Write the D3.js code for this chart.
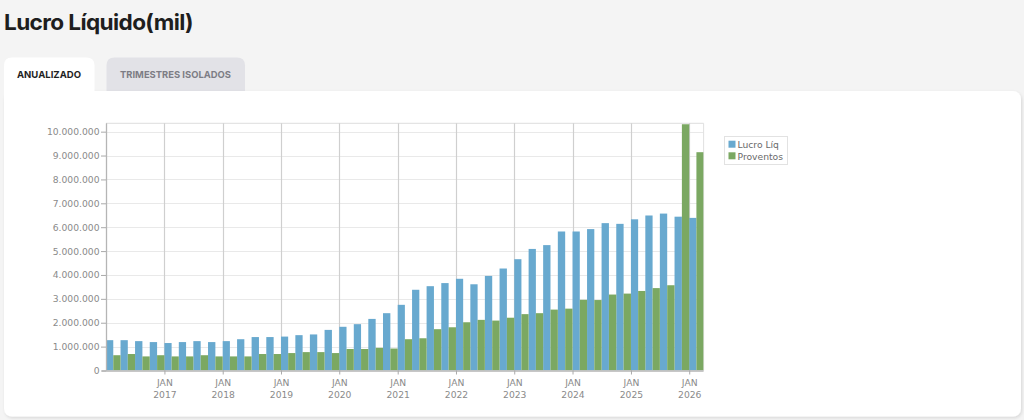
<!DOCTYPE html>
<html>
<head>
<meta charset="utf-8">
<script src="https://cdn.jsdelivr.net/npm/d3@7"></script>
<style>
  html, body { margin: 0; padding: 0; background: #f4f4f4; }
  svg { display: block; }
</style>
</head>
<body>
<svg id="chart" width="1024" height="420"></svg>
<script>
// ---------- DATA ----------
const quarters = [
  "2016-01-01","2016-04-01","2016-07-01","2016-10-01",
  "2017-01-01","2017-04-01","2017-07-01","2017-10-01",
  "2018-01-01","2018-04-01","2018-07-01","2018-10-01",
  "2019-01-01","2019-04-01","2019-07-01","2019-10-01",
  "2020-01-01","2020-04-01","2020-07-01","2020-10-01",
  "2021-01-01","2021-04-01","2021-07-01","2021-10-01",
  "2022-01-01","2022-04-01","2022-07-01","2022-10-01",
  "2023-01-01","2023-04-01","2023-07-01","2023-10-01",
  "2024-01-01","2024-04-01","2024-07-01","2024-10-01",
  "2025-01-01","2025-04-01","2025-07-01","2025-10-01",
  "2026-01-01"
];
const lucroLiq = [
  1270000,1270000,1230000,1190000,
  1150000,1190000,1230000,1190000,
  1230000,1310000,1400000,1400000,
  1420000,1480000,1510000,1700000,
  1830000,1940000,2160000,2400000,
  2750000,3380000,3530000,3660000,
  3840000,3610000,3960000,4270000,
  4660000,5090000,5250000,5820000,
  5820000,5920000,6170000,6140000,
  6330000,6490000,6570000,6440000,
  6390000
];
const proventos = [
  640000,690000,590000,640000,
  590000,590000,640000,590000,
  590000,590000,690000,690000,
  730000,770000,770000,730000,
  900000,900000,950000,920000,
  1310000,1350000,1730000,1810000,
  2020000,2120000,2090000,2210000,
  2360000,2400000,2550000,2590000,
  2960000,2950000,3180000,3220000,
  3330000,3450000,3570000,10310000,
  9140000
];
const seriesNames = ["Lucro Líq", "Proventos"];
const seriesColors = ["#68a9cf", "#7ba862"];
const yTicks = [0,1000000,2000000,3000000,4000000,5000000,6000000,7000000,8000000,9000000,10000000];
const xTickDates = ["2017-01-01","2018-01-01","2019-01-01","2020-01-01","2021-01-01","2022-01-01","2023-01-01","2024-01-01","2025-01-01","2026-01-01"];
const title = "Lucro Líquido(mil)";
const tabs = ["ANUALIZADO", "TRIMESTRES ISOLADOS"];

// ---------- SETUP ----------
const svg = d3.select("#chart");
const parse = d3.utcParse("%Y-%m-%d");
const qDates = quarters.map(parse);
const locale = d3.formatLocale({decimal: ",", thousands: ".", grouping: [3], currency: ["R$", ""]});
const fmt = locale.format(",d");
const monthFmt = d3.utcFormat("%b");
const yearFmt = d3.utcFormat("%Y");

const plot = {left: 106, right: 703.6, top: 123.3, bottom: 370.5};

const x = d3.scaleUtc()
  .domain([parse("2016-01-01"), parse("2026-04-01")])
  .range([plot.left, plot.right]);
const y = d3.scaleLinear()
  .domain([0, 10350000])
  .range([plot.bottom, plot.top]);

const defs = svg.append("defs");
const sh = defs.append("filter").attr("id", "shadow").attr("x", "-5%").attr("y", "-5%").attr("width", "110%").attr("height", "115%");
sh.append("feDropShadow").attr("dx", 1).attr("dy", 1.5).attr("stdDeviation", 1.5).attr("flood-color", "#000").attr("flood-opacity", 0.12);
defs.append("clipPath").attr("id", "plotclip").append("rect")
  .attr("x", plot.left).attr("y", plot.top)
  .attr("width", plot.right - plot.left).attr("height", plot.bottom - plot.top);

// ---------- TITLE ----------
svg.append("text")
  .attr("x", 4).attr("y", 29.5)
  .attr("font-family", "Inter, 'Noto Sans', sans-serif")
  .attr("font-weight", 700).attr("font-size", 22)
  .attr("fill", "#1e1e1e")
  .attr("letter-spacing", -0.6)
  .attr("textLength", 189).attr("lengthAdjust", "spacingAndGlyphs")
  .text(title);

// ---------- TABS & PANEL ----------
// inactive tab
svg.append("path")
  .attr("d", roundTop(106.5, 57.5, 138.5, 36, 8))
  .attr("fill", "#e2e2e7");
svg.append("text")
  .attr("x", 175.5).attr("y", 78.3)
  .attr("text-anchor", "middle")
  .attr("font-family", "Inter, 'Noto Sans', sans-serif")
  .attr("font-weight", 700).attr("font-size", 9.6)
  .attr("fill", "#7d7d85")
  .attr("textLength", 111).attr("lengthAdjust", "spacingAndGlyphs")
  .text(tabs[1]);

// panel
svg.append("rect")
  .attr("x", 4).attr("y", 91).attr("width", 1017).attr("height", 325.5)
  .attr("rx", 8).attr("fill", "#fff")
  .attr("filter", "url(#shadow)");
// active tab
svg.append("path")
  .attr("d", roundTop(4, 57.5, 90.5, 42, 8))
  .attr("fill", "#fff");
svg.append("rect").attr("x", 4).attr("y", 85).attr("width", 12).attr("height", 14).attr("fill", "#fff");
svg.append("text")
  .attr("x", 49).attr("y", 78.3)
  .attr("text-anchor", "middle")
  .attr("font-family", "Inter, 'Noto Sans', sans-serif")
  .attr("font-weight", 700).attr("font-size", 9.6)
  .attr("fill", "#1e1e1e")
  .attr("textLength", 64).attr("lengthAdjust", "spacingAndGlyphs")
  .text(tabs[0]);

function roundTop(x0, y0, w, h, r) {
  return `M${x0},${y0 + h} L${x0},${y0 + r} Q${x0},${y0} ${x0 + r},${y0} L${x0 + w - r},${y0} Q${x0 + w},${y0} ${x0 + w},${y0 + r} L${x0 + w},${y0 + h} Z`;
}

// ---------- GRID ----------
const g = svg.append("g");
g.append("g").selectAll("line").data(yTicks.slice(1)).join("line")
  .attr("x1", plot.left).attr("x2", plot.right)
  .attr("y1", d => Math.round(y(d)) + 0.5).attr("y2", d => Math.round(y(d)) + 0.5)
  .attr("stroke", "#e9e9e9").attr("stroke-width", 1.2);
// top + right border
g.append("line").attr("x1", plot.left).attr("x2", plot.right)
  .attr("y1", plot.top).attr("y2", plot.top).attr("stroke", "#e4e4e4").attr("stroke-width", 1.2);
g.append("line").attr("x1", plot.right).attr("x2", plot.right)
  .attr("y1", plot.top).attr("y2", plot.bottom).attr("stroke", "#e0e0e0").attr("stroke-width", 1);
// vertical year lines
g.append("g").selectAll("line").data(xTickDates.map(parse)).join("line")
  .attr("x1", d => Math.round(x(d)) + 0.5).attr("x2", d => Math.round(x(d)) + 0.5)
  .attr("y1", plot.top).attr("y2", plot.bottom)
  .attr("stroke", "#cfcfcf").attr("stroke-width", 1.2);

// ---------- BARS ----------
const bars = svg.append("g").attr("clip-path", "url(#plotclip)");
const nextQ = (d) => d3.utcMonth.offset(d, 3);
const rows = qDates.map((d, i) => ({d, a: lucroLiq[i], b: proventos[i]}));
bars.selectAll("rect.lucro").data(rows).join("rect")
  .attr("class", "lucro")
  .attr("x", r => x(r.d))
  .attr("width", r => (x(nextQ(r.d)) - x(r.d)) / 2)
  .attr("y", r => y(r.a))
  .attr("height", r => y(0) - y(r.a))
  .attr("fill", seriesColors[0]);
bars.selectAll("rect.prov").data(rows).join("rect")
  .attr("class", "prov")
  .attr("x", r => (x(r.d) + x(nextQ(r.d))) / 2)
  .attr("width", r => (x(nextQ(r.d)) - x(r.d)) / 2)
  .attr("y", r => y(r.b))
  .attr("height", r => y(0) - y(r.b))
  .attr("fill", seriesColors[1]);

// ---------- AXES ----------
const axisFont = "'DejaVu Sans', Verdana, sans-serif";
const yAxis = svg.append("g")
  .attr("transform", `translate(${plot.left},0)`)
  .call(d3.axisLeft(y).tickValues(yTicks).tickFormat(fmt).tickSize(5).tickPadding(1.5));
yAxis.select(".domain").attr("stroke", "#b5b5b5").attr("stroke-width", 1.3)
  .attr("d", `M0.5,${plot.top}V${plot.bottom}`);
yAxis.selectAll(".tick line").attr("stroke", "#aaa");
yAxis.selectAll(".tick text")
  .attr("font-family", axisFont).attr("font-size", 9.2).attr("fill", "#8a8a8a");

const xAxis = svg.append("g")
  .attr("transform", `translate(0,${plot.bottom})`)
  .call(d3.axisBottom(x).tickValues(xTickDates.map(parse)).tickSize(4).tickFormat(() => ""));
xAxis.select(".domain").attr("stroke", "#b5b5b5").attr("stroke-width", 1.3)
  .attr("d", `M${plot.left - 4},0.5H${plot.right}`);
xAxis.selectAll(".tick line").attr("stroke", "#aaa");
const xt = xAxis.selectAll(".tick text")
  .attr("font-family", axisFont).attr("font-size", 9.2).attr("fill", "#8a8a8a")
  .attr("y", 0).attr("dy", null);
xt.append("tspan").attr("x", 0).attr("y", 15.5).text(d => monthFmt(d).toUpperCase().replace("JAN", "JAN"));
xt.append("tspan").attr("x", 0).attr("y", 27.5).text(d => yearFmt(d));

// ---------- LEGEND ----------
const leg = svg.append("g");
leg.append("rect").attr("x", 724.5).attr("y", 136.5).attr("width", 63).attr("height", 28)
  .attr("fill", "#fff").attr("stroke", "#e2e2e2").attr("stroke-width", 1);
seriesNames.forEach((n, i) => {
  leg.append("rect").attr("x", 728.5).attr("y", 140.7 + i * 11.6).attr("width", 7).attr("height", 7)
    .attr("fill", seriesColors[i]);
  leg.append("text").attr("x", 737.5).attr("y", 148 + i * 11.6)
    .attr("font-family", axisFont).attr("font-size", 9.2).attr("fill", "#6a6a6a")
    .text(n);
});
</script>
</body>
</html>
